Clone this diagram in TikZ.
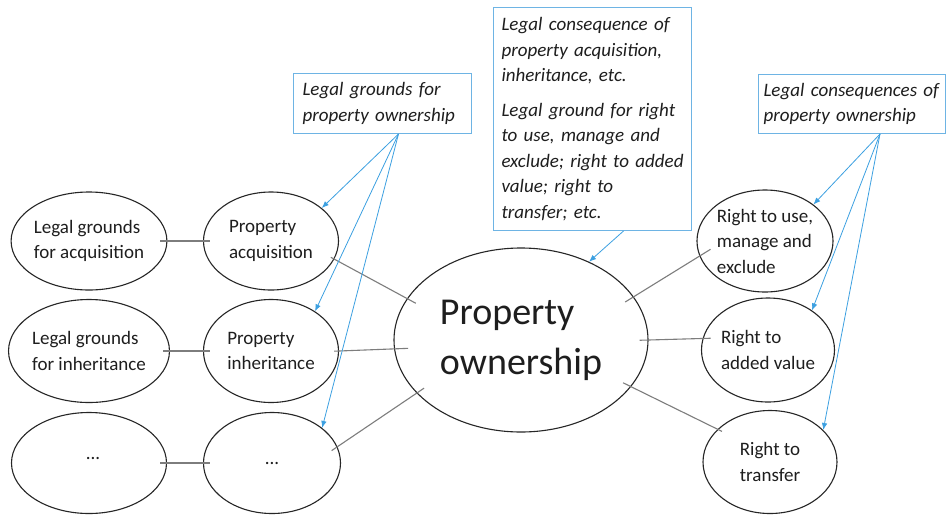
\documentclass[tikz,border=0pt]{standalone}
\usepackage{fontspec}
\setmainfont{Carlito}
\usetikzlibrary{shapes.geometric,arrows.meta}
\definecolor{boxblue}{RGB}{110,180,228}
\definecolor{arrblue}{RGB}{60,160,225}
\definecolor{linegray}{RGB}{125,125,125}
\definecolor{txt}{RGB}{30,30,30}
\newcommand\fsm{\fontsize{19}{25.5}\selectfont}
\newcommand\fbig{\fontsize{38}{50}\selectfont}
\newcommand\oneline[1]{\mbox{#1}}
\begin{document}
\begin{tikzpicture}[x=1pt,y=-1pt,
  ell/.style={ellipse, draw=black!85, line width=1.1pt, inner sep=0pt, align=left, font=\fsm, text=txt},
  gbox/.style={draw=boxblue, line width=1pt, anchor=north west, align=left, font=\fsm\itshape, text=txt, inner ysep=4pt},
  conn/.style={draw=linegray, line width=1.1pt},
  barr/.style={draw=arrblue, line width=0.8pt, -{Latex[length=7pt,width=5.5pt]}}
]
\useasboundingbox (0,0) rectangle (946,515);
\fill[white] (0,0) rectangle (946,515);

% left ellipses
\node[ell, minimum width=155pt, minimum height=98pt] (E1) at (89,241) {Legal grounds\\for acquisition};
\node[ell, minimum width=135pt, minimum height=98pt] (E2) at (271,241) {Property\\acquisition};
\node[ell, minimum width=155pt, minimum height=103pt] (E3) at (89,351) {Legal grounds\\for inheritance};
\node[ell, minimum width=135pt, minimum height=103pt] (E4) at (271,351) {Property\\inheritance};
\node[ell, minimum width=155pt, minimum height=101pt, label={[xshift=4pt,yshift=5pt,font=\fsm,text=txt]center:...}] (E5) at (89,463) {};
\node[ell, minimum width=137pt, minimum height=101pt] (E6) at (272,463) {...};

% central ellipse
\node[ell, minimum width=254pt, minimum height=184pt, font=\fbig] (C) at (521,340) {Property\\ownership};

% right ellipses
\node[ell, minimum width=136pt, minimum height=102pt] (R1) at (765,241) {Right to use,\\manage and\\exclude};
\node[ell, minimum width=133pt, minimum height=104pt] (R2) at (768,350) {Right to\\added value};
\node[ell, minimum width=134pt, minimum height=103pt] (R3) at (770,462) {Right to\\transfer};

% boxes
\node[gbox, minimum width=178pt, minimum height=60pt, text width=160pt, inner xsep=9pt] (B1) at (293,73)
  {\oneline{Legal grounds for}\\\oneline{property ownership}};
\node[gbox, minimum width=198pt, minimum height=223pt, text width=182pt, inner xsep=8pt] (B2) at (493,7)
  {\oneline{Legal consequence of}\\\oneline{property acquisition,}\\\oneline{inheritance, etc.}\\[9pt]\oneline{Legal ground for right}\\\oneline{to use, manage and}\\\oneline{exclude; right to added}\\\oneline{value; right to}\\\oneline{transfer; etc.}};
\node[gbox, minimum width=187pt, minimum height=59pt, text width=177pt, inner xsep=5pt] (B3) at (758,74)
  {\oneline{Legal consequences of}\\\oneline{property ownership}};

% gray connectors
\draw[conn, shorten <=-7pt, shorten >=-7pt] (E1.east) -- (E2.west);
\draw[conn, shorten <=-7pt, shorten >=-7pt] (E3.east) -- (E4.west);
\draw[conn, shorten <=-7pt, shorten >=-7pt] (E5.east) -- (E6.west);
\draw[conn, shorten <=-4pt, shorten >=-10pt] (E2.-16) -- (C.160);
\draw[conn, shorten <=-5pt, shorten >=-14pt] (E4.east) -- (C.184);
\draw[conn, shorten <=-7pt, shorten >=-9pt] (E6.14) -- (C.207);
\draw[conn, shorten <=-10pt, shorten >=-13pt] (C.21) -- (R1.193);
\draw[conn, shorten <=-9pt, shorten >=-8pt] (C.0) -- (R2.170);
\draw[conn, shorten <=-9pt, shorten >=-5pt] (C.-23) -- (R3.148);

% blue arrows
\coordinate (s1) at ([xshift=16pt]B1.south);
\coordinate (s2) at ([xshift=31pt]B2.south);
\coordinate (s3) at ([xshift=28pt]B3.south);
\draw[barr] (s1) -- (E2.33);
\draw[barr] (s1) -- (E4.42);
\draw[barr] (s1) -- (E6.35);
\draw[barr] (s2) -- (C.49);
\draw[barr] (s3) -- (R1.37);
\draw[barr] (s3) -- (R2.42);
\draw[barr] (s3) -- (R3.31);
\end{tikzpicture}
\end{document}
